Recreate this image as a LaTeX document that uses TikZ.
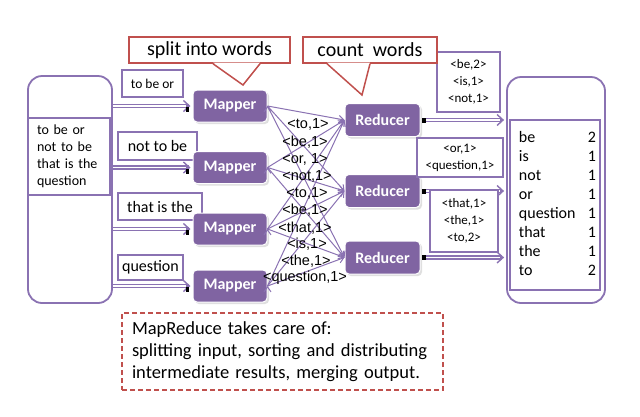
\documentclass[tikz,border=0pt]{standalone}
\usepackage{fontspec}
\setmainfont{Carlito}
\newfontfamily\pairfont{Liberation Sans}
\usetikzlibrary{arrows.meta,positioning,shadows}
\definecolor{mrpurple}{HTML}{8064A2}
\definecolor{mrline}{HTML}{8A72B2}
\definecolor{mrred}{HTML}{C0504D}

\begin{document}
\begin{tikzpicture}[
  x=1pt, y=-1pt,
  font=\fontsize{16}{19}\selectfont,
  worker/.style = {fill=mrpurple, draw=white, line width=1pt, rounded corners=4pt,
                   minimum width=74pt, minimum height=32pt, text=white,
                   font=\fontsize{16}{19}\selectfont\bfseries,
                   drop shadow={shadow xshift=2pt, shadow yshift=-2pt, fill=black!25}},
  chunk/.style  = {draw=mrline, line width=1.5pt, fill=white, inner sep=0pt},
  store/.style  = {draw=mrline, line width=1.8pt, rounded corners=14pt},
  pairs/.style  = {draw=mrline, line width=1.5pt, fill=white, align=center,
                   font=\fontsize{13}{17}\selectfont},
  note/.style   = {draw=mrred, line width=1.5pt, fill=white, inner sep=0pt,
                   minimum height=26pt, font=\fontsize{20}{24}\selectfont},
  kv/.style     = {font=\pairfont\fontsize{14.5}{16}\selectfont, inner sep=0pt},
  feed/.style   = {draw=mrline, line width=4.4pt,
                   -{Straight Barb[length=6pt,width=11pt,line width=1.4pt]},
                   postaction={draw=white, line width=1.8pt, arrows=-, shorten >=4.5pt}},
  fan/.style    = {draw=mrline, line width=1pt, -{Straight Barb[length=5pt,width=7pt]}},
  blot/.style   = {fill=black},
]
\useasboundingbox (0,0) rectangle (640,416);

% --- the input and its four splits ---------------------------------------------------------------
\node[store, minimum width=84pt, minimum height=227pt] (input) at (70,189.5) {};
\node[chunk, minimum width=82pt, minimum height=77pt, text width=64pt, align=left,
      font=\fontsize{14}{17}\selectfont] (doc) at (69,156.5)
  {to be or\\not to be\\that is the\\question};

\node[chunk, minimum width=61pt, minimum height=27pt, font=\fontsize{13.5}{16}\selectfont]
  (s1) at (152.5,83.5) {to be or};
\node[chunk, minimum width=79pt, minimum height=28pt] (s2) at (157.5,146) {not to be};
\node[chunk, minimum width=84pt, minimum height=27pt] (s3) at (160,206.5) {that is the};
\node[chunk, minimum width=65pt, minimum height=25pt] (s4) at (150.5,267.5) {question};

% --- mappers and reducers ------------------------------------------------------------------------
\node[worker] (m1) at (230,106)   {Mapper};
\node[worker] (m2) at (230,167.5) {Mapper};
\node[worker] (m3) at (230,229)   {Mapper};
\node[worker] (m4) at (230,286)   {Mapper};

\node[worker, minimum width=75pt, minimum height=33pt] (r1) at (382.5,120)   {Reducer};
\node[worker, minimum width=75pt, minimum height=33pt] (r2) at (382.5,191)   {Reducer};
\node[worker, minimum width=75pt, minimum height=33pt] (r3) at (382.5,257.5) {Reducer};

% --- split: input -> mappers ---------------------------------------------------------------------
\draw[feed] (input.east |- m1) -- ([xshift=-2pt]m1.west);
\draw[feed] (input.east |- m2) -- ([xshift=-2pt]m2.west);
\draw[feed] (input.east |- m3) -- ([xshift=-2pt]m3.west);
\draw[feed] (input.east |- m4) -- ([xshift=-2pt]m4.west);
\fill[blot] (m1.west) ++(-7,1) rectangle ++(3,5);
\fill[blot] (m2.west) ++(-7,1) rectangle ++(3,5);
\fill[blot] (m3.west) ++(-7,1) rectangle ++(3,5);
\fill[blot] (m4.west) ++(-7,1) rectangle ++(3,5);

% --- shuffle: every mapper to every reducer ------------------------------------------------------
\draw[fan] (m1.east) edge (r1.west) edge (r2.west) edge (r3.west);
\draw[fan] (m2.east) edge (r1.west) edge (r2.west) edge (r3.west);
\draw[fan] (m3.east) edge (r1.west) edge (r2.west) edge (r3.west);
\draw[fan] (m4.east) edge (r1.west) edge (r2.west) edge (r3.west);

\node[kv] (k1)  at (308,124) {<to,1>};
\node[kv] (k2)  at (305,142) {<be,1>};
\node[kv] (k3)  at (305,159) {<or, 1>};
\node[kv] (k4)  at (307,176) {<not,1>};
\node[kv] (k5)  at (307,193) {<to,1>};
\node[kv] (k6)  at (305,210) {<be,1>};
\node[kv] (k7)  at (305,228) {<that,1>};
\node[kv] (k8)  at (307,244) {<is,1>};
\node[kv] (k9)  at (306,261) {<the,1>};
\node[kv] (k10) at (305,278) {<question,1>};

% --- the output ----------------------------------------------------------------------------------
\node[store, minimum width=98pt, minimum height=226pt] (output) at (556,190) {};
\node[chunk, minimum width=90pt, minimum height=170pt] (counts) at (555,205)
  {\begin{tabular}{@{\hspace{5pt}}p{69pt}@{}r@{}}
     be & 2\\ is & 1\\ not & 1\\ or & 1\\ question & 1\\ that & 1\\ the & 1\\ to & 2
   \end{tabular}};

\draw[feed, shorten <=4pt] (r1.east) -- ([xshift=-2pt]output.west |- r1);
\draw[feed, shorten <=4pt] (r2.east) -- ([xshift=-2pt]output.west |- r2);
\draw[feed, shorten <=4pt] (r3.east) -- ([xshift=-2pt]output.west |- r3);
\fill[blot] (r1.east) ++(1,-2.5) rectangle ++(4,5);
\fill[blot] (r2.east) ++(1,-2.5) rectangle ++(4,5);
\fill[blot] (r3.east) ++(1,-2.5) rectangle ++(4,5);

\node[pairs, minimum width=63pt, minimum height=60pt] (p1) at (468.5,82)
  {<be,2>\\<is,1>\\<not,1>};
\node[pairs, minimum width=86pt, minimum height=39pt] (p2) at (460,157.5)
  {<or,1>\\<question,1>};
\node[pairs, minimum width=68pt, minimum height=62pt] (p3) at (464,221)
  {<that,1>\\<the,1>\\<to,2>};

% --- the two notes on top ------------------------------------------------------------------------
\node[note, minimum width=161pt] (split) at (209.5,50) {split into words};
\node[note, minimum width=134pt] (count) at (370,50)   {count\ \ words};
\coordinate (splittip) at (243,85);
\coordinate (counttip) at (362,95);
\fill[white] ([shift={(3.5,-1.2)}]split.south) -- (splittip) -- ([shift={(50.5,-1.2)}]split.south) -- cycle;
\draw[mrred, line width=1.5pt] ([xshift=3.5pt]split.south) -- (splittip) -- ([xshift=50.5pt]split.south);
\fill[white] ([shift={(-43,-1.2)}]count.south) -- (counttip) -- ([shift={(0,-1.2)}]count.south) -- cycle;
\draw[mrred, line width=1.5pt] ([xshift=-43pt]count.south) -- (counttip) -- (count.south);

% --- what the framework does ---------------------------------------------------------------------
\node[draw=mrred, line width=1.5pt, dash pattern=on 5pt off 3pt, minimum width=321pt,
      minimum height=77pt, text width=301pt, align=left,
      font=\fontsize{18.5}{22}\selectfont] (care) at (282.5,351.5)
  {MapReduce takes care of:\\splitting input, sorting and distributing\\intermediate results, merging output.};

\end{tikzpicture}
\end{document}
